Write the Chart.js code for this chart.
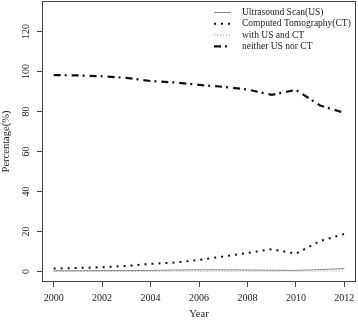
<!DOCTYPE html>
<html lang="en">
<head>
    <meta charset="UTF-8">
    <title>Percentage by Year</title>
    <script src="https://cdn.jsdelivr.net/npm/chart.js"></script>
    <style>
        html, body { margin: 0; padding: 0; background: #fff; }
        #wrap { width: 358px; height: 321px; }
    </style>
</head>
<body>
    <div id="wrap"><canvas id="examChart" width="358" height="321"></canvas></div>

    <script>
        // values
        const years = [2000, 2001, 2002, 2003, 2004, 2005, 2006, 2007, 2008, 2009, 2010, 2011, 2012];
        const usOnly = [0.4, 0.4, 0.5, 0.5, 0.6, 0.8, 0.9, 0.9, 0.8, 0.7, 0.6, 1.0, 1.5];
        const ctOnly = [1.5, 1.8, 2.2, 2.8, 3.9, 4.5, 5.8, 7.5, 9.3, 11.2, 9.0, 15.3, 18.8];
        const usAndCt = [0.1, 0.1, 0.1, 0.1, 0.1, 0.2, 0.2, 0.2, 0.2, 0.2, 0.2, 0.3, 0.3];
        const neither = [98.2, 98.0, 97.6, 96.8, 95.2, 94.5, 93.3, 92.3, 91.0, 88.3, 90.8, 83.0, 79.3];
        const xTicks = [2000, 2002, 2004, 2006, 2008, 2010, 2012];
        const yTicks = [0, 20, 40, 60, 80, 100, 120];

        const serif = "'Liberation Serif', 'Times New Roman', serif";

        function points(vals) {
            return years.map((y, i) => ({ x: y, y: vals[i] }));
        }

        // R-style box around the plot and a legend in the top right
        const boxAndLegend = {
            id: 'boxAndLegend',
            afterDraw(chart) {
                const ctx = chart.ctx;
                const a = chart.chartArea;
                ctx.save();
                ctx.strokeStyle = '#444';
                ctx.lineWidth = 1;
                ctx.setLineDash([]);
                ctx.strokeRect(Math.round(a.left) + 0.5, Math.round(a.top) + 0.5,
                    Math.round(a.right - a.left) - 1, Math.round(a.bottom - a.top) - 1);

                ctx.font = '9.5px ' + serif;
                ctx.textBaseline = 'middle';
                ctx.fillStyle = '#222';
                chart.data.datasets.forEach((ds, i) => {
                    const y = 12.5 + i * 11.3;
                    ctx.beginPath();
                    ctx.strokeStyle = ds.borderColor;
                    ctx.lineWidth = ds.borderWidth;
                    ctx.setLineDash(ds.borderDash || []);
                    ctx.moveTo(214, y);
                    ctx.lineTo(231, y);
                    ctx.stroke();
                    ctx.fillText(ds.label, 242, y);
                });
                ctx.restore();
            }
        };

        const ctx = document.getElementById('examChart').getContext('2d');
        new Chart(ctx, {
            type: 'line',
            data: {
                datasets: [{
                    label: 'Ultrasound Scan(US)',
                    data: points(usOnly),
                    borderColor: '#8c8c8c',
                    borderWidth: 1,
                    borderDash: []
                }, {
                    label: 'Computed Tomography(CT)',
                    data: points(ctOnly),
                    borderColor: '#111',
                    borderWidth: 2,
                    borderDash: [2, 5]
                }, {
                    label: 'with US and CT',
                    data: points(usAndCt),
                    borderColor: '#8c8c8c',
                    borderWidth: 1,
                    borderDash: [1, 2]
                }, {
                    label: 'neither US nor CT',
                    data: points(neither),
                    borderColor: '#111',
                    borderWidth: 2.2,
                    borderDash: [7, 4, 2, 5]
                }]
            },
            options: {
                responsive: false,
                animation: false,
                elements: {
                    point: { radius: 0 },
                    line: { tension: 0, fill: false }
                },
                layout: { padding: { top: 1, right: 2, left: 0, bottom: 0 } },
                plugins: {
                    legend: { display: false },
                    tooltip: { enabled: false }
                },
                scales: {
                    x: {
                        type: 'linear',
                        min: 1999.52,
                        max: 2012.48,
                        afterBuildTicks: s => { s.ticks = xTicks.map(v => ({ value: v })); },
                        afterFit: s => {
                            s.height = 39;
                            s.paddingLeft = 0;
                            s.paddingRight = 0;
                        },
                        grid: { drawOnChartArea: false, drawTicks: true, tickLength: 5, color: '#444' },
                        border: { display: false },
                        ticks: {
                            padding: 5,
                            color: '#222',
                            font: { family: serif, size: 10 },
                            maxRotation: 0,
                            callback: v => String(v)
                        },
                        title: {
                            display: true,
                            text: 'Year',
                            color: '#222',
                            padding: 0,
                            font: { family: serif, size: 10.5 }
                        }
                    },
                    y: {
                        min: -5.2,
                        max: 135.2,
                        afterBuildTicks: s => { s.ticks = yTicks.map(v => ({ value: v })); },
                        afterFit: s => {
                            s.width = 42;
                            s.paddingTop = 0;
                            s.paddingBottom = 0;
                        },
                        grid: { drawOnChartArea: false, drawTicks: true, tickLength: 5, color: '#444' },
                        border: { display: false },
                        ticks: {
                            minRotation: 90,
                            maxRotation: 90,
                            crossAlign: 'center',
                            padding: 3,
                            color: '#222',
                            font: { family: serif, size: 10 },
                            callback: v => String(v)
                        },
                        title: {
                            display: true,
                            text: 'Percentage(%)',
                            color: '#222',
                            padding: 0,
                            font: { family: serif, size: 10.5 }
                        }
                    }
                }
            },
            plugins: [boxAndLegend]
        });
    </script>
</body>
</html>
